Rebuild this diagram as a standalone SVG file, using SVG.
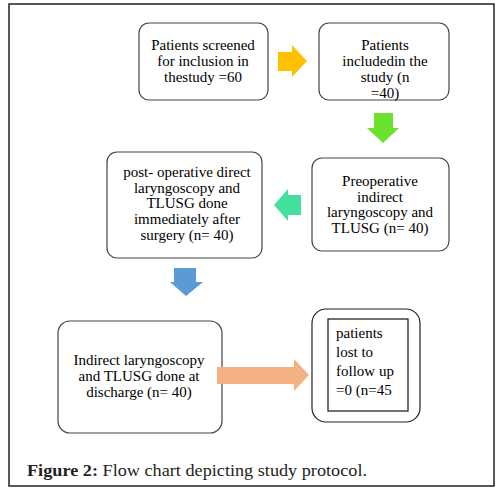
<svg xmlns="http://www.w3.org/2000/svg" width="503" height="496" viewBox="0 0 503 496">
<style>
.box{fill:#fff;stroke:#444;stroke-width:1.2}
.t{font-family:"Liberation Serif","Times New Roman",serif;font-size:15px;fill:#000;text-anchor:middle}
.tl{font-family:"Liberation Serif","Times New Roman",serif;font-size:15px;fill:#000}
.cap{font-family:"Liberation Serif","Times New Roman",serif;font-size:17px;fill:#231f20}
</style>
<rect x="9" y="4" width="485" height="482" fill="#fff" stroke="#222" stroke-width="1.5"/>
<g id="n1">
<rect class="box" x="139" y="23" width="129" height="77" rx="10"/>
<text class="t" x="203" y="50">Patients screened</text>
<text class="t" x="203" y="66">for inclusion in</text>
<text class="t" x="203" y="82">thestudy =60</text>
</g>
<g id="n2">
<rect class="box" x="319" y="23" width="130" height="77" rx="10"/>
<text class="t" x="385" y="50">Patients</text>
<text class="t" x="385" y="66">includedin the</text>
<text class="t" x="385" y="82">study (n</text>
<text class="t" x="385" y="98">=40)</text>
</g>
<g id="n3">
<rect class="box" x="312" y="158" width="137" height="93" rx="10"/>
<text class="t" x="380" y="186">Preoperative</text>
<text class="t" x="380" y="201.5">indirect</text>
<text class="t" x="380" y="217">laryngoscopy and</text>
<text class="t" x="380" y="233">TLUSG (n= 40)</text>
</g>
<g id="n4">
<rect class="box" x="107" y="152" width="155" height="106" rx="10"/>
<text class="t" x="187" y="177">post- operative direct</text>
<text class="t" x="187" y="192.5">laryngoscopy and</text>
<text class="t" x="187" y="208">TLUSG done</text>
<text class="t" x="187" y="224">immediately after</text>
<text class="t" x="187" y="240">surgery (n= 40)</text>
</g>
<g id="n5">
<rect class="box" x="58" y="321" width="164" height="112" rx="12"/>
<text class="t" x="139" y="365">Indirect laryngoscopy</text>
<text class="t" x="139" y="381">and TLUSG done at</text>
<text class="t" x="139" y="397">discharge (n= 40)</text>
</g>
<g id="n6">
<rect x="312" y="309" width="108" height="113" rx="14" fill="#fff" stroke="#222" stroke-width="1.2"/>
<rect x="328" y="319" width="80" height="92" fill="#fff" stroke="#111" stroke-width="1.2"/>
<text class="tl" x="336" y="338">patients</text>
<text class="tl" x="336" y="357">lost to</text>
<text class="tl" x="336" y="376">follow up</text>
<text class="tl" x="336" y="395">=0 (n=45</text>
</g>
<g id="connectors">
<polygon fill="#FFC000" points="278,52 292,52 292,45 307,61 292,77 292,71 278,71"/>
<polygon fill="#6AE22E" points="374,113 393,113 393,128 399,128 383,143 367,128 374,128"/>
<polygon fill="#45DF9E" points="301,195 288,195 288,189 274,205 288,221 288,215 301,215"/>
<polygon fill="#5B9BD5" points="174,268 196,268 196,282 203,282 186,296 170,282 174,282"/>
<polygon fill="#F4B183" points="217,367 294,367 294,359 309,375 294,391 294,384 217,384"/>
</g>
<text class="cap" x="27" y="476" textLength="340" lengthAdjust="spacingAndGlyphs"><tspan font-weight="bold">Figure 2:</tspan> Flow chart depicting study protocol.</text>
</svg>
